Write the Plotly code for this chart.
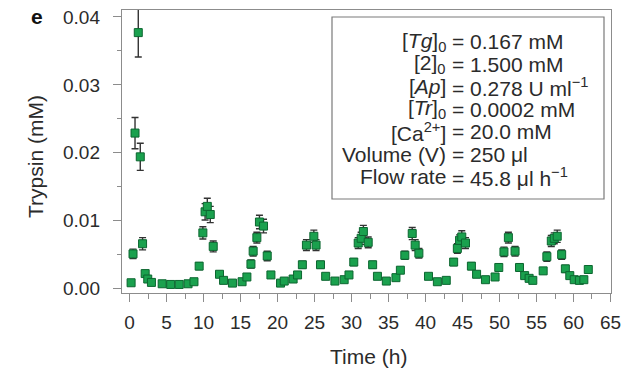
import plotly.graph_objects as go

# ---- data ----
time_h = [0.2, 0.46, 0.73, 1.17, 1.44, 1.75, 2.1, 2.45, 2.95, 4.4,
          5.55, 6.7, 7.9, 8.7, 9.4, 9.9, 10.2, 10.5, 10.9, 11.3,
          12.15, 12.7, 13.9, 15.2, 15.85, 16.4, 16.7, 17.2, 17.55, 18.1,
          18.6, 19.1, 20.4, 20.9, 22.1, 22.7, 23.35, 23.9, 24.9, 25.2,
          25.8, 26.5, 27.75, 29.0, 29.65, 30.3, 30.9, 31.3, 31.6, 32.25,
          32.85, 33.5, 34.7, 36.0, 36.6, 37.2, 38.2, 38.6, 39.1, 40.4,
          41.6, 42.8, 43.8, 44.3, 44.6, 44.9, 45.4, 46.2, 46.9, 48.1,
          49.4, 49.9, 50.6, 51.2, 52.1, 52.7, 53.4, 54.0, 54.5, 55.9,
          56.4, 57.0, 57.4, 57.8, 58.4, 58.9, 59.5, 60.1, 60.8, 61.4,
          62.0]

trypsin_mM = [0.00085, 0.0051, 0.0229, 0.0377, 0.0194, 0.0066, 0.0022, 0.0014, 0.0009, 0.0007,
              0.0006, 0.0006, 0.0007, 0.0010, 0.0033, 0.0082, 0.0113, 0.0121, 0.0109, 0.0062,
              0.0021, 0.0012, 0.0008, 0.0010, 0.0017, 0.0036, 0.0055, 0.0075, 0.0098, 0.0092,
              0.0048, 0.0020, 0.0008, 0.0011, 0.0014, 0.0020, 0.0035, 0.0064, 0.0077, 0.0064,
              0.0035, 0.0018, 0.0011, 0.0013, 0.0020, 0.0039, 0.0067, 0.0074, 0.0084, 0.0068,
              0.0035, 0.0018, 0.0011, 0.0016, 0.0027, 0.0049, 0.0081, 0.0064, 0.0052, 0.0018,
              0.0010, 0.0012, 0.0039, 0.0059, 0.0071, 0.0076, 0.0067, 0.0033, 0.0021, 0.0013,
              0.0017, 0.0031, 0.0054, 0.0075, 0.0055, 0.0031, 0.0019, 0.0015, 0.0012, 0.0026,
              0.0047, 0.0070, 0.0074, 0.0077, 0.0050, 0.0029, 0.0019, 0.0013, 0.0012, 0.0013,
              0.0028]

trypsin_err = [0.0003, 0.0007, 0.0023, 0.0036, 0.0020, 0.0009, 0.0004, 0.0003, 0.0003, 0.0003,
               0.0003, 0.0003, 0.0003, 0.0003, 0.0005, 0.0009, 0.0012, 0.0012, 0.0012, 0.0008,
               0.0004, 0.0003, 0.0003, 0.0003, 0.0004, 0.0006, 0.0007, 0.0008, 0.0010, 0.0010,
               0.0007, 0.0004, 0.0003, 0.0003, 0.0003, 0.0004, 0.0005, 0.0008, 0.0009, 0.0008,
               0.0005, 0.0004, 0.0003, 0.0003, 0.0004, 0.0005, 0.0008, 0.0009, 0.0009, 0.0008,
               0.0005, 0.0004, 0.0003, 0.0003, 0.0004, 0.0006, 0.0009, 0.0008, 0.0007, 0.0004,
               0.0003, 0.0003, 0.0005, 0.0007, 0.0008, 0.0009, 0.0008, 0.0005, 0.0004, 0.0003,
               0.0004, 0.0005, 0.0007, 0.0008, 0.0007, 0.0005, 0.0004, 0.0003, 0.0003, 0.0004,
               0.0007, 0.0008, 0.0008, 0.0009, 0.0007, 0.0005, 0.0004, 0.0003, 0.0003, 0.0003,
               0.0005]

x_ticks = [0, 5, 10, 15, 20, 25, 30, 35, 40, 45, 50, 55, 60, 65]
y_ticks = [0.00, 0.01, 0.02, 0.03, 0.04]
y_tick_labels = ["0.00", "0.01", "0.02", "0.03", "0.04"]

param_names = ["[<i>Tg</i>]<sub>0</sub>", "[2]<sub>0</sub>", "[<i>Ap</i>]",
               "[<i>Tr</i>]<sub>0</sub>", "[Ca<sup>2+</sup>]", "Volume (V)", "Flow rate"]
param_values = ["= 0.167 mM", "= 1.500 mM", "= 0.278 U ml<sup>\u22121</sup>",
                "= 0.0002 mM", "= 20.0 mM", "= 250 \u03bcl", "= 45.8 \u03bcl h<sup>\u22121</sup>"]

FONT = "Liberation Sans, Arial, sans-serif"
TXT = "#2b2b2b"
AXC = "#8c8c8c"

fig = go.Figure()
fig.add_trace(go.Scatter(
    x=time_h, y=trypsin_mM, mode="markers", cliponaxis=False,
    marker=dict(symbol="square", size=8, color="#1aa14e",
                line=dict(color="#0c6630", width=1)),
    error_y=dict(type="data", array=trypsin_err, visible=True,
                 color="#333333", thickness=1.4, width=3.5),
    showlegend=False,
))

W, H = 640, 369
L, R, T, B = 122, 29, 10, 76
pw, ph = W - L - R, H - T - B

def px2paper_x(px):
    return (px - L) / pw

def px2paper_y(py):
    return 1 - (py - T) / ph

# parameter box
fig.add_shape(type="rect", xref="paper", yref="paper",
              x0=px2paper_x(332), x1=px2paper_x(604),
              y0=px2paper_y(199), y1=px2paper_y(17),
              line=dict(color="#7a7a7a", width=1.2), fillcolor="white", layer="above")

annots = []
for i, (n, v) in enumerate(zip(param_names, param_values)):
    yc = px2paper_y(41.7 + 22.5 * i)
    annots.append(dict(xref="paper", yref="paper", x=px2paper_x(448), y=yc,
                       text=n, showarrow=False, xanchor="right", yanchor="middle",
                       font=dict(family=FONT, size=21, color=TXT)))
    annots.append(dict(xref="paper", yref="paper", x=px2paper_x(450), y=yc,
                       text=v, showarrow=False, xanchor="left", yanchor="middle",
                       font=dict(family=FONT, size=21, color=TXT)))

# panel letter and axis titles
annots.append(dict(xref="paper", yref="paper", x=px2paper_x(37), y=px2paper_y(16),
                   text="<b>e</b>", showarrow=False, xanchor="center", yanchor="middle",
                   font=dict(family=FONT, size=21, color="#111111")))
annots.append(dict(xref="paper", yref="paper", x=px2paper_x(368), y=px2paper_y(356),
                   text="Time (h)", showarrow=False, xanchor="center", yanchor="middle",
                   font=dict(family=FONT, size=21, color=TXT)))
annots.append(dict(xref="paper", yref="paper", x=px2paper_x(35), y=px2paper_y(157),
                   text="Trypsin (mM)", showarrow=False, xanchor="center", yanchor="middle",
                   textangle=-90, font=dict(family=FONT, size=21, color=TXT)))

fig.update_layout(
    width=W, height=H,
    margin=dict(l=L, r=R, t=T, b=B, pad=0),
    paper_bgcolor="white", plot_bgcolor="white",
    font=dict(family=FONT, size=19, color=TXT),
    annotations=annots,
    xaxis=dict(
        range=[-1.03, 65.07], tickmode="array", tickvals=x_ticks,
        ticks="outside", ticklen=8, tickwidth=1, tickcolor=AXC,
        minor=dict(dtick=2.5, tick0=0, ticks="outside", ticklen=5, tickcolor=AXC, showgrid=False),
        showline=True, linecolor=AXC, linewidth=1.2, mirror=True,
        showgrid=False, zeroline=False, automargin=False, ticklabelstandoff=4,
        tickfont=dict(family=FONT, size=19, color=TXT),
    ),
    yaxis=dict(
        range=[-0.00066, 0.04103], tickmode="array", tickvals=y_ticks, ticktext=y_tick_labels,
        ticks="outside", ticklen=8, tickwidth=1, tickcolor=AXC,
        minor=dict(dtick=0.005, tick0=0, ticks="outside", ticklen=4, tickcolor=AXC, showgrid=False),
        showline=True, linecolor=AXC, linewidth=1.2, mirror=True,
        showgrid=False, zeroline=False, automargin=False, ticklabelstandoff=9,
        tickfont=dict(family=FONT, size=19, color=TXT),
    ),
)

fig.write_html(
    "out.html",
    config=dict(displayModeBar=False, staticPlot=True),
    post_script="document.documentElement.style.margin='0';"
                "document.body.style.margin='0';document.body.style.padding='0';",
)
